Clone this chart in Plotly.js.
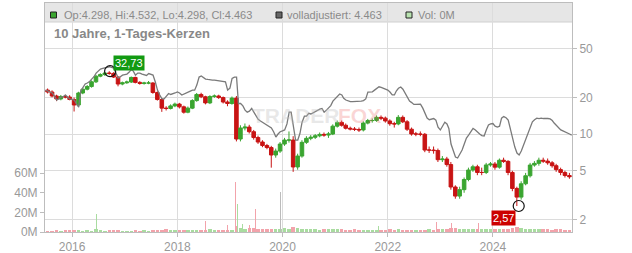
<!DOCTYPE html>
<html><head><meta charset="utf-8">
<script src="https://cdn.plot.ly/plotly-3.0.1.min.js"></script>
<style>html,body{margin:0;padding:0;background:#fff}#c{width:632px;height:253px}</style>
</head><body><div id="c"></div>
<script>
// monthly candles, 2015-07 .. 2025-06
const startYear = 2015, startMonth = 7;
const priceOpen = [22.9,22.1,20.5,19.4,20.3,20.1,19.2,17.3,21.7,23.3,
 24.5,26.8,29.8,30.7,31.6,31.4,29.3,25.7,26.3,26.7,
 29.1,26.5,26.0,26.2,26.2,21.9,19.2,16.3,16.2,17.0,
 17.6,16.7,15.1,16.3,18.8,21.1,20.2,18.0,20.3,20.5,
 19.9,18.3,17.8,19.7,9.1,11.2,11.4,10.45,9.36,8.60,
 8.05,7.75,6.73,7.25,8.28,8.93,8.93,5.37,6.60,8.55,
 9.22,9.40,9.67,9.93,9.81,10.0,11.6,12.45,11.8,11.15,
 11.0,10.9,10.8,12.3,12.9,12.9,13.7,13.5,12.8,12.15,
 12.1,13.7,12.6,10.95,10.0,10.0,9.95,7.39,7.39,7.32,
 6.16,6.24,5.62,3.68,3.10,3.50,4.24,5.07,5.39,4.84,
 4.84,5.58,5.68,5.35,6.10,5.97,4.84,3.58,3.04,3.91,
 4.55,5.57,5.75,6.10,6.00,5.81,5.50,5.11,4.84,4.57];
const priceClose = [22.1,20.5,19.4,20.3,20.1,19.2,17.3,21.7,23.3,24.5,
 26.8,29.8,30.7,31.6,31.4,29.3,25.7,26.3,26.7,29.1,
 26.5,26.0,26.2,26.2,21.9,19.2,16.3,16.2,17.0,17.6,
 16.7,15.1,16.3,18.8,21.1,20.2,18.0,20.3,20.5,19.9,
 18.3,17.8,19.7,9.1,11.2,11.4,10.45,9.36,8.60,8.05,
 7.75,6.73,7.25,8.28,8.93,8.93,5.37,6.60,8.55,9.22,
 9.40,9.67,9.93,9.81,10.0,11.6,12.45,11.8,11.15,11.0,
 10.9,10.8,12.3,12.9,12.9,13.7,13.5,12.8,12.15,12.1,
 13.7,12.6,10.95,10.0,10.0,9.95,7.39,7.39,7.32,6.16,
 6.24,5.62,3.68,3.10,3.50,4.24,5.07,5.39,4.84,4.84,
 5.58,5.68,5.35,6.10,5.97,4.84,3.58,3.04,3.91,4.55,
 5.57,5.75,6.10,6.00,5.81,5.50,5.11,4.84,4.57,4.463];
const priceHigh = [23.6,22.8,21.0,20.9,21.0,20.8,19.9,22.2,23.9,25.2,
 27.5,30.5,31.5,32.2,32.73,32.1,29.8,26.9,27.4,29.6,
 29.5,27.1,26.8,27.2,26.6,22.4,19.7,16.9,17.5,18.1,
 18.0,17.1,16.8,19.3,21.7,21.8,20.6,20.8,21.1,21.0,
 20.3,18.9,20.3,20.5,11.8,12.2,11.9,10.8,9.7,8.9,
 8.3,8.0,7.6,8.6,9.3,10.5,9.6,6.9,8.9,9.6,
 9.8,10.0,10.3,10.3,10.4,12.0,12.9,12.9,12.2,11.5,
 11.4,11.3,12.7,13.3,13.4,14.2,14.2,13.9,13.2,12.6,
 14.3,14.2,13.0,11.3,10.4,10.5,10.2,7.9,7.9,7.6,
 6.6,6.5,5.9,3.8,3.7,4.4,5.3,5.6,5.6,5.3,
 5.8,5.9,5.9,6.3,6.4,6.1,5.0,3.7,4.1,4.8,
 5.8,6.0,6.4,6.4,6.3,6.0,5.7,5.3,5.0,4.8];
const priceLow = [21.5,20.0,18.6,18.9,19.6,18.9,15.3,16.8,21.2,22.8,
 24.0,26.2,29.2,30.0,30.6,28.8,24.6,25.1,25.8,26.2,
 26.0,25.4,25.4,25.6,21.4,18.8,15.2,15.6,15.9,16.6,
 16.2,14.7,14.8,16.0,18.4,19.7,17.5,17.6,19.8,19.4,
 17.8,16.9,17.4,8.7,8.7,10.7,10.1,9.0,8.3,7.8,
 7.5,5.3,6.4,7.0,8.0,8.5,4.9,5.1,6.4,8.3,
 8.9,9.1,9.4,9.5,9.3,9.8,11.3,11.5,10.9,10.7,
 10.6,10.4,10.5,12.0,12.4,12.6,13.0,12.4,11.7,11.3,
 11.8,12.3,10.6,9.7,9.6,9.6,7.1,7.0,6.9,5.9,
 5.9,5.4,3.5,2.95,2.95,3.3,4.1,4.9,4.6,4.6,
 4.7,5.4,5.1,5.2,5.8,4.6,3.4,2.57,2.9,3.8,
 4.4,5.4,5.5,5.8,5.6,5.3,4.9,4.6,4.4,4.3];
// adjusted comparison line, read twice a month (1st and 16th), 2015-07-01 .. 2025-07-01
const adjusted = [22.9,22.5, 22.1,21.7, 20.5,19.0, 19.4,20.1, 20.3,20.9, 20.1,19.4,
 19.2,19.0, 17.6,16.6, 22.5,24.3, 25.7,26.2, 26.9,28.2, 29.5,31.6,
 33.1,34.1, 34.5,34.9, 35.2,35.6, 35.1,34.7, 31.6,28.8, 29.5,30.4,
 30.7,31.0, 32.2,33.9, 32.8,30.4, 31.6,31.6, 31.0,30.4, 30.2,31.3,
 31.0,30.4, 26.7,22.9, 20.9,19.4, 19.4,20.5, 21.5,21.1, 21.3,21.7,
 22.1,21.7, 20.9,21.3, 21.7,22.4, 22.5,22.9, 22.9,25.2, 29.3,29.9,
 28.8,28.2, 28.0,27.7, 27.7,27.7, 27.5,27.7, 27.2,27.2, 26.8,22.9,
 23.8,28.6, 29.3,29.3, 17.8,17.8, 17.0,15.7, 15.1,15.4, 16.2,15.1,
 14.0,13.2, 12.8,12.5, 12.2,11.85, 11.5,11.2, 10.4,9.45, 10.0,10.45,
 10.6,10.8, 12.1,15.1, 15.1,11.4, 8.93,8.93, 10.1,12.5, 14.0,14.0,
 14.8,14.6, 15.0,15.2, 15.7,16.0, 16.2,15.1, 15.7,16.3, 17.1,18.6,
 19.6,20.5, 21.3,20.9, 19.6,19.0, 18.6,18.4, 18.4,18.4, 18.4,18.4,
 18.6,18.8, 19.4,22.1, 22.2,22.2, 22.9,23.8, 24.4,24.1, 23.7,23.3,
 22.9,22.1, 20.9,20.9, 22.5,23.7, 24.3,23.3, 21.5,20.1, 18.6,18.1,
 17.5,17.5, 17.6,17.6, 16.3,14.6, 13.5,13.1, 13.3,13.4, 13.0,11.4,
 10.8,11.6, 12.5,12.1, 11.1,8.28, 7.39,6.48, 6.36,6.86, 7.39,8.28,
 9.27,9.81, 10.6,11.1, 10.8,10.3, 10.0,9.72, 9.63,10.8, 11.85,12.1,
 12.2,11.6, 11.4,11.6, 13.5,13.9, 13.6,13.0, 10.8,8.93, 7.82,6.99,
 6.73,7.25, 8.12,9.27, 10.4,11.6, 12.6,13.1, 13.5,13.4, 13.5,13.4,
 13.5,13.4, 13.3,12.9, 12.3,11.85, 11.2,10.8, 10.6,10.45, 10.2,10.0,
 9.8];
// monthly volume (millions)
const volume = [1.5,1.2,1.8,1.3,2.0,2.4,
 1.6,2.2,1.4,1.9,1.5,2.8,1.7,1.3,2.1,1.6,1.8,1.4,
 1.5,1.3,1.9,1.2,1.6,1.4,1.8,2.3,1.7,2.6,1.9,2.2,
 2.0,1.8,2.4,1.9,2.1,1.7,2.2,2.6,1.9,2.3,2.0,2.5,
 2.4,6.5,4.2,3.1,3.6,4.5,3.0,2.8,3.3,2.7,2.9,3.5,
 3.8,3.2,4.6,3.9,3.0,2.8,3.1,2.6,2.4,2.9,3.3,2.7,
 3.4,2.8,2.5,2.2,2.6,2.3,2.0,2.4,2.1,2.5,2.2,2.0,
 2.6,2.3,2.8,2.1,2.4,2.2,2.5,2.0,2.3,2.7,2.4,3.0,
 3.2,2.8,3.6,4.1,3.5,3.0,2.8,3.2,2.9,3.4,3.1,2.7,
 3.0,3.3,2.8,3.5,4.2,4.8,3.6,3.2,2.9,3.1,2.6,2.8,
 2.7,2.5,3.0,2.6,2.4,2.2];
// single-day volume spikes
const spikeDates = ['2015-11-27','2016-06-18','2018-07-13','2018-12-13','2019-02-08','2019-02-22','2019-03-30','2019-05-14','2019-06-25','2019-12-20','2020-12-17','2021-06-22','2021-10-26','2022-12-06','2023-03-20','2023-09-20','2024-05-12','2024-09-28'];
const spikeVol = [6,18,11,7,50.6,28,8,7,23.6,41,12,9.5,6,10,9,9.5,9,14];
const spikeDir = ['up','up','dn','dn','dn','up','up','dn','dn','flat','dn','up','up','dn','dn','dn','dn','dn'];
const priceTicks = [2,5,10,20,50];
const volTicks = [0,20,40,60];
const yearTicks = ['2016','2018','2020','2022','2024'];
const maxPoint = {date:'2016-09-21', value:32.73, label:'32,73'};
const minPoint = {date:'2024-06-28', value:2.57, label:'2,57'};

function mstr(i, day){
  const t = startMonth - 1 + i;
  const y = startYear + Math.floor(t/12);
  const m = t % 12 + 1;
  return y + '-' + String(m).padStart(2,'0') + '-' + day;
}
const candleDates = priceOpen.map((_, i) => mstr(i, '15'));
const lineDates = adjusted.map((_, i) => mstr(Math.floor(i/2), i % 2 ? '16' : '01'));

const GREEN = '#3aa530', RED = '#c81414';
const volColors = priceOpen.map((o, i) => priceClose[i] >= o ? '#a9dca0' : '#f2a3ab');
const spikeColors = spikeDir.map(d => d === 'up' ? '#a9dca0' : d === 'dn' ? '#f2a3ab' : '#bbbbbb');
const DAY = 86400000;

const traces = [
  {type:'bar', x:candleDates, y:volume, yaxis:'y', marker:{color:volColors, line:{width:0}}, width:24*DAY, hoverinfo:'skip'},
  {type:'bar', x:spikeDates, y:spikeVol, yaxis:'y', marker:{color:spikeColors, line:{width:0}}, width:6*DAY, hoverinfo:'skip'},
  {type:'scatter', mode:'lines', x:lineDates, y:adjusted, yaxis:'y2', line:{color:'#7a7a7a', width:1.3}, hoverinfo:'skip'},
  {type:'candlestick', x:candleDates, open:priceOpen, high:priceHigh, low:priceLow, close:priceClose, yaxis:'y2',
   increasing:{line:{color:GREEN, width:1}, fillcolor:GREEN},
   decreasing:{line:{color:RED, width:1}, fillcolor:RED}, whiskerwidth:0, hoverinfo:'skip'},
  {type:'scatter', mode:'markers', x:[maxPoint.date, minPoint.date], y:[maxPoint.value, minPoint.value], yaxis:'y2',
   marker:{symbol:'circle-open', size:11, color:'#111', line:{width:1.2}}, hoverinfo:'skip'}
];

const L = 45, R = 572, T = 3, B = 232;
const px = x => (x - L) / (R - L);
const py = y => (B - y) / (B - T);
const txt = {family:'Liberation Sans, Arial, sans-serif', size:11, color:'#8a8a8a'};

const layout = {
  width:632, height:253, margin:{l:L, r:632-R, t:T, b:253-B},
  paper_bgcolor:'#fff', plot_bgcolor:'rgba(0,0,0,0)', showlegend:false, bargap:0, boxgap:0.12, boxgroupgap:0,
  font:{family:'Liberation Sans, Arial, sans-serif', size:12, color:'#999'},
  xaxis:{type:'date', range:['2015-06-27','2025-07-03'], tickvals:yearTicks.map(y => y + '-01-01'), ticktext:yearTicks,
    showgrid:true, gridcolor:'#dcdcdc', gridwidth:1, showline:true, linecolor:'#bdbdbd', mirror:true,
    ticks:'outside', ticklen:4, tickcolor:'#bdbdbd', tickfont:{size:12, color:'#999'}, rangeslider:{visible:false}, fixedrange:true},
  yaxis:{side:'left', range:[0,233], tickvals:volTicks, ticktext:volTicks.map(v => v + 'M'), showgrid:false, zeroline:false,
    showline:true, linecolor:'#bdbdbd', ticks:'outside', ticklen:4, tickcolor:'#bdbdbd', tickfont:{size:12, color:'#999'}},
  yaxis2:{side:'right', overlaying:'y', type:'log', range:[0.197, 2.074], tickvals:priceTicks, ticktext:priceTicks.map(String),
    showgrid:true, gridcolor:'#dcdcdc', showline:true, linecolor:'#bdbdbd', ticks:'outside', ticklen:4, tickcolor:'#bdbdbd',
    tickfont:{size:12, color:'#999'}},
  shapes:[
    {type:'rect', xref:'paper', yref:'paper', x0:0, x1:1, y0:py(22), y1:1, fillcolor:'#e6e6e6', line:{width:0}, layer:'below'},
    {type:'line', xref:'paper', yref:'paper', x0:0, x1:1, y0:py(22), y1:py(22), line:{color:'#d0d0d0', width:1}, layer:'below'},
    {type:'rect', xref:'paper', yref:'paper', x0:px(50.5), x1:px(56.5), y0:py(18), y1:py(12), fillcolor:'#3aa530', line:{color:'#222', width:1}},
    {type:'rect', xref:'paper', yref:'paper', x0:px(276), x1:px(282), y0:py(18), y1:py(12), fillcolor:'#666', line:{color:'#222', width:1}},
    {type:'rect', xref:'paper', yref:'paper', x0:px(406), x1:px(412), y0:py(18), y1:py(12), fillcolor:'#b9e3b0', line:{color:'#222', width:1}}
  ],
  annotations:[
    {xref:'paper', yref:'paper', x:px(62), y:py(15.5), xanchor:'left', yanchor:'middle', showarrow:false, text:'Op:4.298, Hi:4.532, Lo:4.298, Cl:4.463', font:txt},
    {xref:'paper', yref:'paper', x:px(285), y:py(15.5), xanchor:'left', yanchor:'middle', showarrow:false, text:'volladjustiert: 4.463', font:txt},
    {xref:'paper', yref:'paper', x:px(416), y:py(15.5), xanchor:'left', yanchor:'middle', showarrow:false, text:'Vol: 0M', font:txt},
    {xref:'paper', yref:'paper', x:px(52), y:py(33.5), xanchor:'left', yanchor:'middle', showarrow:false, text:'<b>10 Jahre, 1-Tages-Kerzen</b>', font:{family:'Liberation Sans, Arial, sans-serif', size:13, color:'#888'}},
    {xref:'paper', yref:'paper', x:px(296), y:py(115), xanchor:'center', yanchor:'middle', showarrow:false, text:'<b>TRADER</b>', font:{family:'Liberation Sans, Arial, sans-serif', size:21, color:'rgba(190,190,190,0.35)'}},
    {xref:'paper', yref:'paper', x:px(359), y:py(115), xanchor:'center', yanchor:'middle', showarrow:false, text:'<b>FOX</b>', font:{family:'Liberation Sans, Arial, sans-serif', size:21, color:'rgba(235,90,90,0.25)'}},
    {xref:'x', yref:'y2', x:maxPoint.date, y:Math.log10(maxPoint.value), text:maxPoint.label, showarrow:true, arrowcolor:'rgba(0,0,0,0)', arrowwidth:0.1, ax:19, ay:-8,
     bgcolor:'#129a12', borderpad:1, font:{family:'Liberation Sans, Arial, sans-serif', size:11, color:'#fff'}},
    {xref:'x', yref:'y2', x:minPoint.date, y:Math.log10(minPoint.value), text:minPoint.label, showarrow:true, arrowcolor:'rgba(0,0,0,0)', arrowwidth:0.1, ax:-15, ay:12,
     bgcolor:'#cc0000', borderpad:1, font:{family:'Liberation Sans, Arial, sans-serif', size:11, color:'#fff'}}
  ]
};
Plotly.newPlot('c', traces, layout, {staticPlot:true, displayModeBar:false});
</script>
</body></html>
